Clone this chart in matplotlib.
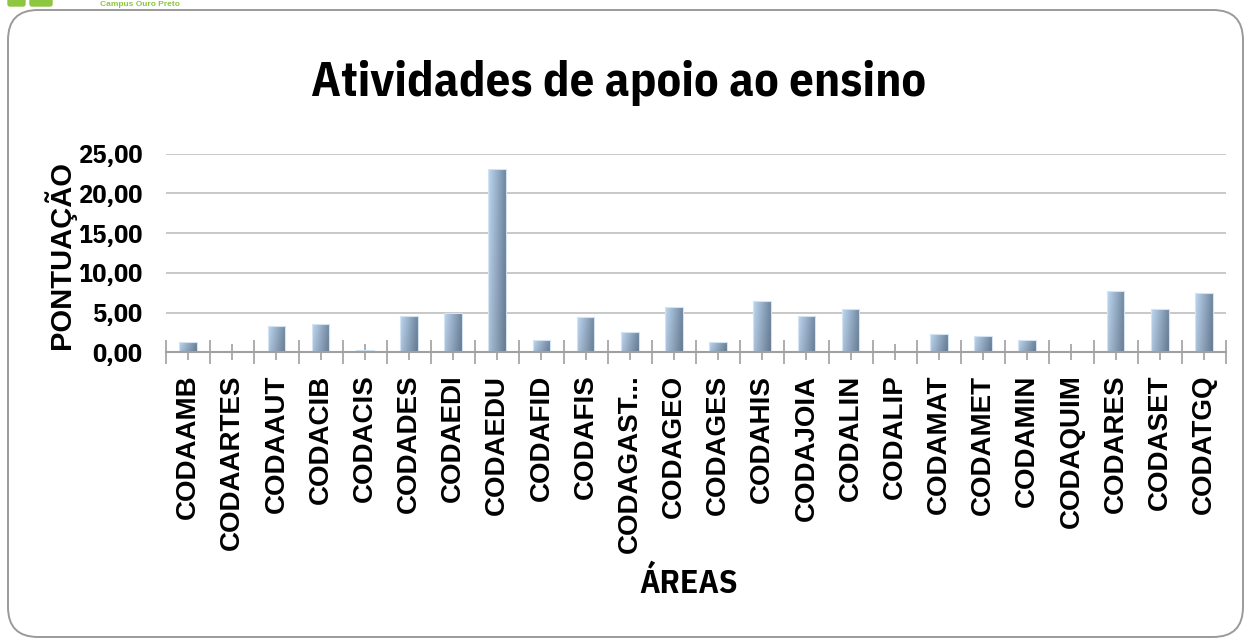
import numpy as np
import matplotlib.pyplot as plt
from matplotlib.patches import FancyBboxPatch

# areas e pontuação
areas = ['CODAAMB', 'CODAARTES', 'CODAAUT', 'CODACIB', 'CODACIS', 'CODADES',
         'CODAEDI', 'CODAEDU', 'CODAFID', 'CODAFIS', 'CODAGAST...', 'CODAGEO',
         'CODAGES', 'CODAHIS', 'CODAJOIA', 'CODALIN', 'CODALIP', 'CODAMAT',
         'CODAMET', 'CODAMIN', 'CODAQUIM', 'CODARES', 'CODASET', 'CODATGQ']
pontos = [1.3, 0.0, 3.35, 3.6, 0.25, 4.6,
          5.0, 23.05, 1.5, 4.4, 2.5, 5.65,
          1.3, 6.45, 4.6, 5.4, 0.0, 2.3,
          2.1, 1.5, 0.0, 7.7, 5.4, 7.5]
yticks = [0, 5, 10, 15, 20, 25]

cond = 'IBM Plex Sans Condensed'

fig = plt.figure(figsize=(12.44, 6.39), dpi=100)

# moldura arredondada
frame = FancyBboxPatch((0.08, 0.02), 12.35, 6.27,
                       boxstyle='round,pad=0,rounding_size=0.3',
                       transform=fig.dpi_scale_trans, facecolor='white',
                       edgecolor='#9a9a9a', lw=1.4, zorder=-1)
fig.patches.append(frame)

# logo no topo
fig.patches.append(FancyBboxPatch((0.08, 6.33), 0.17, 0.1, boxstyle='round,pad=0,rounding_size=0.02',
                                  transform=fig.dpi_scale_trans, color='#8dc63f', zorder=-1))
fig.patches.append(FancyBboxPatch((0.30, 6.33), 0.22, 0.1, boxstyle='round,pad=0,rounding_size=0.02',
                                  transform=fig.dpi_scale_trans, color='#8dc63f', zorder=-1))
fig.text(100 / 1244, 1 - 1 / 639, 'Campus Ouro Preto', color='#8dc63f', fontsize=6,
         fontweight='bold', family='Liberation Sans', ha='left', va='top')

ax = fig.add_axes([166 / 1244, 1 - 352.3 / 639, 1060 / 1244, 198.6 / 639])
ax.patch.set_visible(False)
x = np.arange(len(areas))
bars = ax.bar(x, pontos, width=0.4, color='none', edgecolor='#d3e3f2', lw=0.8, zorder=3)

# gradiente nas barras
light = np.array([0.75, 0.85, 0.95])
dark = np.array([0.44, 0.53, 0.63])
t = np.linspace(0, 1, 60)
s = np.linspace(0, 1, 60)[:, None, None]
grad = light * (1 - t[None, :, None]) + dark * t[None, :, None]
grad = grad * (1 - 0.1 * s)
for b, v in zip(bars, pontos):
    if v <= 0:
        continue
    x0 = b.get_x()
    im = ax.imshow(grad, extent=[x0, x0 + b.get_width(), 0, v], origin='upper',
                   aspect='auto', interpolation='bilinear', zorder=2)
    im.set_clip_path(b)

ax.set_xlim(-0.5, len(areas) - 0.5)
ax.set_ylim(0, 25)

for sp in ['top', 'right', 'left']:
    ax.spines[sp].set_visible(False)
ax.spines['bottom'].set_color('#a0a0a0')
ax.spines['bottom'].set_linewidth(1.5)
ax.spines['bottom'].set_zorder(4)

ax.set_yticks(yticks)
ax.set_yticklabels([f'{v:.2f}'.replace('.', ',') for v in yticks],
                   family=cond, fontweight='bold', fontsize=19)
ax.tick_params(axis='y', length=0, pad=17)
ax.yaxis.grid(True, color='#c8c8c8', lw=1.4)
ax.set_axisbelow(True)

ax.set_xticks(np.arange(-0.5, len(areas), 1))
ax.set_xticklabels([])
ax.set_xticks(x, minor=True)
ax.set_xticklabels(areas, minor=True, rotation=90, family='Liberation Sans',
                   fontweight='bold', fontsize=20)
ax.tick_params(axis='x', which='major', direction='inout', length=17, width=1.2, color='#a0a0a0')
ax.tick_params(axis='x', which='minor', direction='inout', length=12, width=1.2, color='#a0a0a0', pad=10)

fig.text(60 / 1244, 1 - 255 / 639, 'PONTUAÇÃO', rotation=90, ha='center', va='center',
         family='Liberation Sans', fontweight='bold', fontsize=21)
fig.text(619 / 1244, 1 - 96 / 639, 'Atividades de apoio ao ensino', ha='center', va='baseline',
         family=cond, fontweight='bold', fontsize=35)
fig.text(689 / 1244, 1 - 584 / 639, 'ÁREAS', ha='center', va='center',
         family=cond, fontweight='bold', fontsize=24)

fig.savefig('out.png', dpi=100)
